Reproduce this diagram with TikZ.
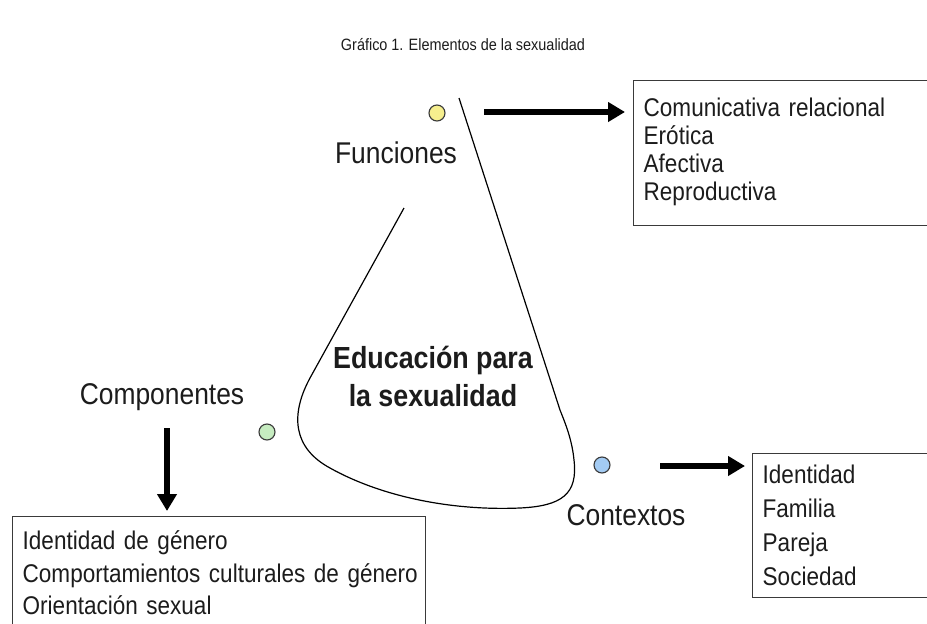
\documentclass[tikz,border=0pt]{standalone}
\usepackage{fontspec}
\setmainfont[FakeStretch=0.88]{Liberation Sans}
\usetikzlibrary{arrows.meta}
\definecolor{cyel}{HTML}{F6EF8E}
\definecolor{cgrn}{HTML}{C6ECC0}
\definecolor{cblu}{HTML}{A3CBF3}
\definecolor{edgec}{HTML}{3A3A3A}
\definecolor{inkc}{HTML}{1C1C1C}
\newcommand{\tightsp}{\spaceskip=0.24em\relax}
\begin{document}
\begin{tikzpicture}[x=1pt,y=-1pt,
  dot/.style={circle,draw=edgec,line width=1.1pt,minimum size=16pt,inner sep=0pt},
  lbl/.style={font=\fontsize{30}{34}\selectfont,text=inkc,inner sep=0pt},
  listbox/.style={draw=edgec,line width=1.4pt,anchor=north west,align=left,
    inner xsep=10pt,inner ysep=0pt,text=inkc},
  bigarrow/.style={line width=5.5pt,-{Triangle[length=17pt,width=19pt]}}]
\clip (0,0) rectangle (927,624);
\fill[white] (0,0) rectangle (927,624);

% title
\node[font=\fontsize{16.4}{19}\selectfont\tightsp,text=inkc,inner sep=0pt] (title) at (463,45) {Gráfico 1. Elementos de la sexualidad};

% central shape
\draw[line width=1.2pt] (404,208) -- (310,378)
  .. controls (290,415) and (293,448) .. (330,468)
  .. controls (380,496) and (450,511) .. (520,508)
  .. controls (562,506) and (578,494) .. (574,460)
  .. controls (572,440) and (566,425) .. (560,410)
  -- (459,98);
\node[font=\fontsize{30.5}{38}\selectfont\bfseries\tightsp,text=inkc,align=center,inner sep=0pt] (center) at (433,376) {Educación para\\la sexualidad};

% circles
\node[dot,fill=cyel] (cf) at (437,113) {};
\node[dot,fill=cgrn] (cc) at (267,432) {};
\node[dot,fill=cblu] (cx) at (602,465) {};

% labels
\node[lbl] (funciones) at (396,153) {Funciones};
\node[lbl] (componentes) at (162,397) {Componentes};
\node[lbl] (contextos) at (626,515) {Contextos};

% boxes
\node[listbox,font=\fontsize{25.6}{28}\selectfont\tightsp,text width=300pt,minimum height=145pt] (boxF) at (633,80)
  {Comunicativa relacional\\Erótica\\Afectiva\\Reproductiva\rule[-8pt]{0pt}{0pt}};
\node[listbox,font=\fontsize{25.6}{34}\selectfont\tightsp,text width=200pt,minimum height=144pt] (boxC) at (752,453)
  {Identidad\\Familia\\Pareja\\Sociedad};
\node[listbox,font=\fontsize{25.6}{32.5}\selectfont\tightsp,text width=393pt,minimum height=112pt] (boxL) at (12,516)
  {Identidad de género\\\mbox{Comportamientos culturales de género}\\Orientación sexual};

% arrows
\coordinate (fa) at (484,112);
\coordinate (ca) at (167,428);
\coordinate (xa) at (660,466);
\draw[bigarrow,shorten >=8pt] (fa) -- (fa -| boxF.west);
\draw[bigarrow,shorten >=5pt] (ca) -- (ca |- boxL.north);
\draw[bigarrow,shorten >=7pt] (xa) -- (xa -| boxC.west);
\end{tikzpicture}
\end{document}
